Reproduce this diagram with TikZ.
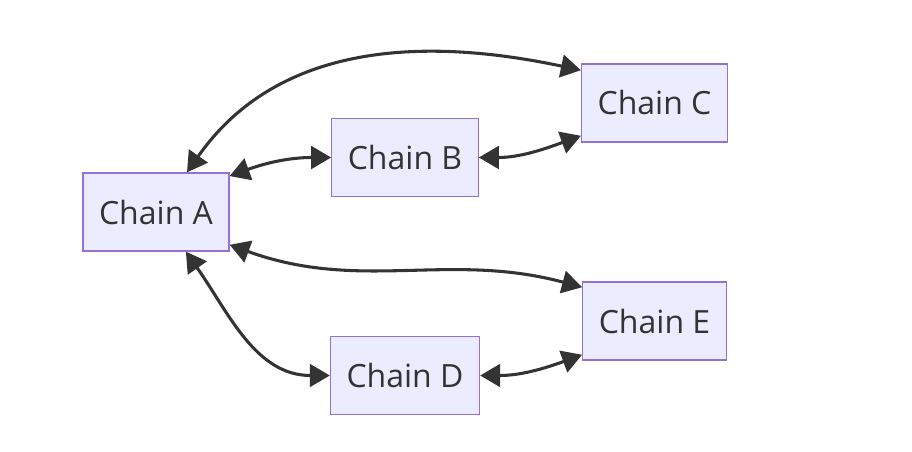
\documentclass[tikz,border=0pt]{standalone}
\usepackage{fontspec}
\setmainfont{Open Sans}
\usepackage{color}
\definecolor{mylavender}{RGB}{236,236,255}
\definecolor{mypurple}{RGB}{147,112,219}
\definecolor{myink}{RGB}{51,51,51}
\usetikzlibrary{arrows.meta,positioning}

\begin{document}
\begin{tikzpicture}[
  x=0.75pt,
  y=-0.75pt,
  mychain/.style={
    draw=mypurple,
    fill=mylavender,
    line width=1pt,
    rectangle,
    inner xsep=12pt,
    minimum height=58.5pt,
    text=myink,
    font=\fontsize{24}{28}\selectfont
    },
  mylink/.style={
    draw=myink,
    line width=2.3pt,
    {Triangle[length=15pt,width=17pt]}-{Triangle[length=15pt,width=17pt]}
    }
]
\useasboundingbox (0,0) rectangle (912,452);

\node[mychain] (chainA) at (156,212)   {Chain A};
\node[mychain] (chainB) at (405,157.5) {Chain B};
\node[mychain] (chainC) at (654.5,103) {Chain C};
\node[mychain] (chainD) at (405,375.5) {Chain D};
\node[mychain] (chainE) at (654.5,321) {Chain E};

\foreach \From/\To/\Out/\In in {
  chainA.52/chainC.156/55/168,
  chainA.26/chainB.west/20/180,
  chainB.east/chainC.204/0/200,
  chainA.-24/chainE.155/-20/165,
  chainA.-53/chainD.west/-55/180,
  chainD.east/chainE.205/0/200}
  \draw[mylink] (\From) to[out=\Out,in=\In] (\To);

\end{tikzpicture}
\end{document}
